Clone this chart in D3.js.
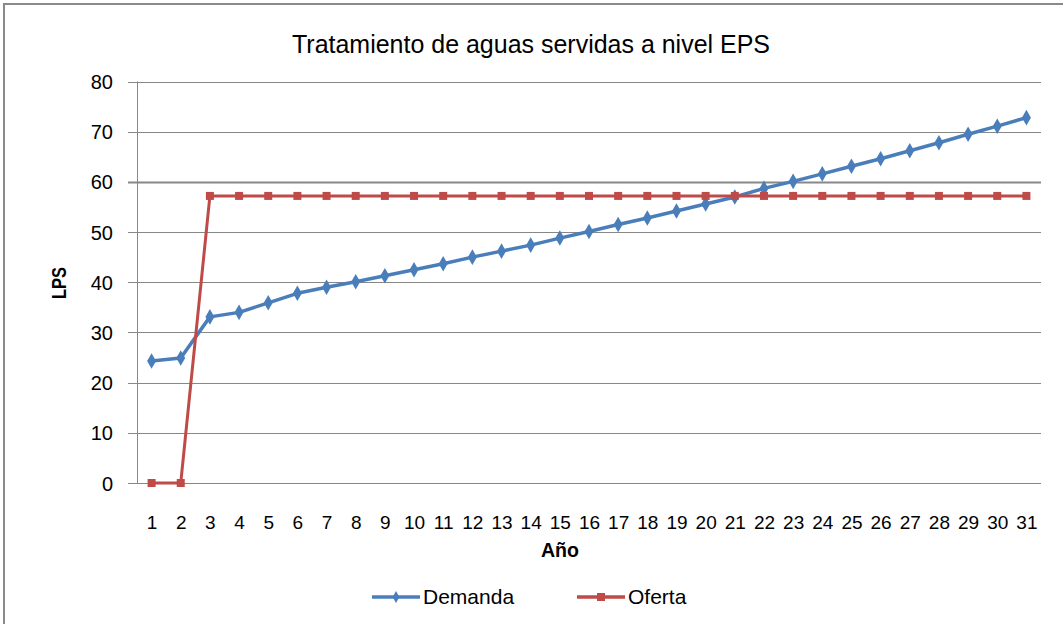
<!DOCTYPE html>
<html>
<head>
<meta charset="utf-8">
<script src="https://cdn.jsdelivr.net/npm/d3@7"></script>
<style>
  html, body { margin: 0; padding: 0; background: #fff; }
  svg { display: block; }
  text { font-family: "Liberation Sans", Arial, sans-serif; fill: #000; }
</style>
</head>
<body>
<svg id="chart" width="1063" height="624"></svg>
<script>
// ---- Data ----
const years = [1,2,3,4,5,6,7,8,9,10,11,12,13,14,15,16,17,18,19,20,21,22,23,24,25,26,27,28,29,30,31];
const demanda = [24.3,24.9,33.1,34.0,35.9,37.8,39.0,40.1,41.3,42.5,43.7,45.0,46.2,47.4,48.8,50.1,51.5,52.8,54.2,55.6,57.0,58.7,60.1,61.6,63.1,64.6,66.2,67.8,69.5,71.1,72.8];
const oferta = [0,0,57.2,57.2,57.2,57.2,57.2,57.2,57.2,57.2,57.2,57.2,57.2,57.2,57.2,57.2,57.2,57.2,57.2,57.2,57.2,57.2,57.2,57.2,57.2,57.2,57.2,57.2,57.2,57.2,57.2];
const yTicks = [0,10,20,30,40,50,60,70,80];
const seriesNames = ["Demanda","Oferta"];
const titleText = "Tratamiento de aguas servidas a nivel EPS";
const xTitle = "Año";
const yTitle = "LPS";

// ---- Layout ----
const svg = d3.select("#chart");
const plot = {left: 137, right: 1041, top: 81.5, bottom: 483};
const blue = "#4A7EBB", red = "#BE4B48", grid = "#878787";

const x = d3.scalePoint().domain(years).range([plot.left, plot.right]).padding(0.5);
const y = d3.scaleLinear().domain([0, 80]).range([plot.bottom, plot.top]);

// outer chart border
svg.append("rect").attr("x", 4).attr("y", 4).attr("width", 1200).attr("height", 800)
  .attr("fill", "none").attr("stroke", "#8a8a8a").attr("stroke-width", 2);

// title
svg.append("text").attr("x", 531).attr("y", 53).attr("text-anchor", "middle")
  .attr("font-size", 25).attr("textLength", 478).attr("lengthAdjust", "spacingAndGlyphs")
  .text(titleText);

// gridlines
svg.append("g").selectAll("line").data(yTicks).join("line")
  .attr("x1", plot.left - 9).attr("x2", plot.right)
  .attr("y1", d => Math.round(y(d)) + 0.5).attr("y2", d => Math.round(y(d)) + 0.5)
  .attr("stroke", grid).attr("stroke-width", d => d === 60 ? 2 : 1);

// y axis line
svg.append("line").attr("x1", plot.left + 0.5).attr("x2", plot.left + 0.5)
  .attr("y1", plot.top).attr("y2", plot.bottom).attr("stroke", grid).attr("stroke-width", 1);

// y axis tick labels via d3 axis
const yAxis = d3.axisLeft(y).tickValues(yTicks).tickSize(0).tickPadding(0);
const gy = svg.append("g").attr("transform", `translate(${plot.left - 24},0)`).call(yAxis);
gy.select(".domain").remove();
gy.selectAll("text").attr("font-size", 20).attr("font-family", "Liberation Sans, Arial, sans-serif")
  .attr("fill", "#000").attr("dy", "0.35em");

// x axis tick labels
const xAxis = d3.axisBottom(x).tickSize(0).tickPadding(0);
const gx = svg.append("g").attr("transform", `translate(0,${plot.bottom + 46})`).call(xAxis);
gx.select(".domain").remove();
gx.selectAll("text").attr("font-size", 19).attr("font-family", "Liberation Sans, Arial, sans-serif")
  .attr("fill", "#000").attr("dy", "0");

// axis titles
svg.append("text").attr("x", 560).attr("y", 557).attr("text-anchor", "middle")
  .attr("font-size", 20).attr("font-weight", "bold")
  .attr("textLength", 38).attr("lengthAdjust", "spacingAndGlyphs").text(xTitle);
svg.append("text").attr("transform", "translate(66,283) rotate(-90)").attr("text-anchor", "middle")
  .attr("font-size", 20).attr("font-weight", "bold")
  .attr("textLength", 32).attr("lengthAdjust", "spacingAndGlyphs").text(yTitle);

// lines
const line = d3.line().x((d, i) => x(years[i])).y(d => y(d));
const diamond = d3.symbol().type(d3.symbolDiamond).size(70);

// Demanda
svg.append("path").datum(demanda).attr("d", line).attr("fill", "none")
  .attr("stroke", blue).attr("stroke-width", 3.5).attr("stroke-linejoin", "round");
svg.append("g").selectAll("path").data(demanda).join("path")
  .attr("transform", (d, i) => `translate(${x(years[i])},${y(d)})`)
  .attr("d", diamond).attr("fill", blue);

// Oferta
svg.append("path").datum(oferta).attr("d", line).attr("fill", "none")
  .attr("stroke", red).attr("stroke-width", 3).attr("stroke-linejoin", "round");
svg.append("g").selectAll("rect").data(oferta).join("rect")
  .attr("x", (d, i) => x(years[i]) - 4).attr("y", d => y(d) - 4)
  .attr("width", 8).attr("height", 8).attr("fill", red);

// legend
const legend = [
  {name: seriesNames[0], color: blue, x0: 372, type: "diamond"},
  {name: seriesNames[1], color: red, x0: 577, type: "square"}
];
const lg = svg.append("g");
legend.forEach(l => {
  lg.append("line").attr("x1", l.x0).attr("x2", l.x0 + 48).attr("y1", 597).attr("y2", 597)
    .attr("stroke", l.color).attr("stroke-width", 3.5);
  if (l.type === "diamond") {
    lg.append("path").attr("transform", `translate(${l.x0 + 24},597)`)
      .attr("d", d3.symbol().type(d3.symbolDiamond).size(40)).attr("fill", l.color);
  } else {
    lg.append("rect").attr("x", l.x0 + 20).attr("y", 593).attr("width", 8).attr("height", 8).attr("fill", l.color);
  }
  lg.append("text").attr("x", l.x0 + 51).attr("y", 604).attr("font-size", 21).text(l.name);
});
</script>
</body>
</html>
